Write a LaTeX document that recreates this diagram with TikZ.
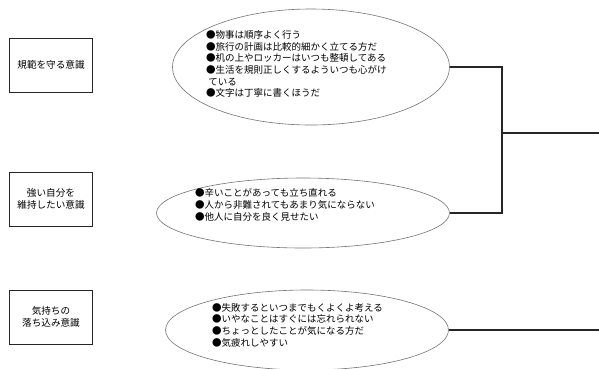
\documentclass[tikz,border=0pt]{standalone}
\usepackage{fontspec}
\newfontfamily\jp{Noto Sans CJK JP}
\usepackage{tikz}
\usetikzlibrary{shapes.geometric, positioning}

\begin{document}
\begin{tikzpicture}[x=1pt, y=-1pt,
        label box/.style={
                draw=black!85,
                line width=0.8pt,
                minimum width=83pt,
                minimum height=54pt,
                align=center,
                font=\jp\fontsize{9.6}{12.5}\selectfont,
        },
        item oval/.style={
                ellipse,
                draw=black!55,
                line width=0.6pt,
                inner sep=0pt,
        },
        item text/.style={
                align=left,
                anchor=west,
                inner sep=0pt,
                font=\jp\fontsize{9.5}{11.7}\selectfont,
        },
        link/.style={
                draw=black!85,
                line width=1.3pt,
        }]
            \useasboundingbox (0, 0) rectangle (599, 368);
            % left boxes
            \node[label box] (norm) at (51, 65) {規範を守る意識};
            \node[label box] (self) at (51, 199) {強い自分を\\維持したい意識};
            \node[label box] (mood) at (51, 317) {気持ちの\\落ち込み意識};
            % ovals
            \node[item oval, minimum width=277pt, minimum height=116pt] (normoval) at (311, 67) {};
            \node[item oval, minimum width=293pt, minimum height=70pt] (selfoval) at (303, 213) {};
            \node[item oval, minimum width=283pt, minimum height=80pt] (moodoval) at (307, 330) {};
            \node[item text] (normtext) at (206, 64) {●物事は順序よく行う\\●旅行の計画は比較的細かく立てる方だ\\●机の上やロッカーはいつも整頓してある\\●生活を規則正しくするよういつも心がけ\\\ ている\\●文字は丁寧に書くほうだ};
            \node[item text] (selftext) at (195, 205) {●辛いことがあっても立ち直れる\\●人から非難されてもあまり気にならない\\●他人に自分を良く見せたい};
            \node[item text] (moodtext) at (212, 325) {●失敗するといつまでもくよくよ考える\\●いやなことはすぐには忘れられない\\●ちょっとしたことが気になる方だ\\●気疲れしやすい};
            % connectors
            \coordinate (join) at (502, 133);
            \coordinate (joinout) at (599, 133);
            \coordinate (moodout) at (599, 330);
            \draw[link] (normoval.east) -| (join) |- (selfoval.east);
            \draw[link] (join) -- (joinout);
            \draw[link] (moodoval.east) -- (moodout);
        \end{tikzpicture}
\end{document}
